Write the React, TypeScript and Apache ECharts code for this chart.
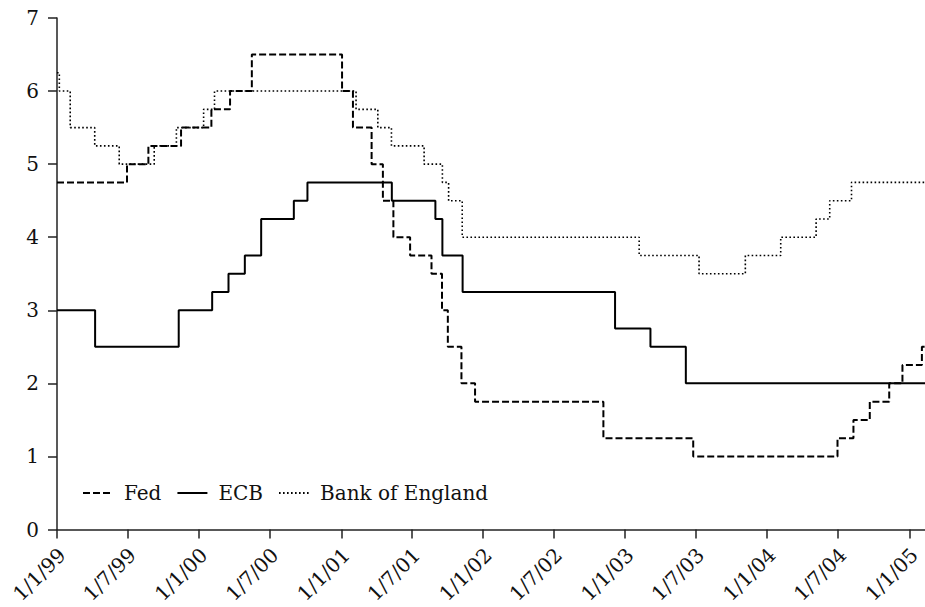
import React, { useEffect, useRef } from "react";
import * as echarts from "echarts";

const tickDates = [
  "1999-01-01", "1999-07-01", "2000-01-01", "2000-07-01", "2001-01-01", "2001-07-01",
  "2002-01-01", "2002-07-01", "2003-01-01", "2003-07-01", "2004-01-01", "2004-07-01", "2005-01-01",
];
const tickLabels = [
  "1/1/99", "1/7/99", "1/1/00", "1/7/00", "1/1/01", "1/7/01",
  "1/1/02", "1/7/02", "1/1/03", "1/7/03", "1/1/04", "1/7/04", "1/1/05",
];
const axisStart = "1999-01-01";
const axisEnd = "2005-02-10";

const fedDates = [
  "1999-01-01", "1999-06-30", "1999-08-24", "1999-11-16", "2000-02-02", "2000-03-21",
  "2000-05-16", "2001-01-03", "2001-01-31", "2001-03-20", "2001-04-18", "2001-05-15",
  "2001-06-27", "2001-08-21", "2001-09-17", "2001-10-02", "2001-11-06", "2001-12-11",
  "2002-11-06", "2003-06-25", "2004-06-30", "2004-08-10", "2004-09-21", "2004-11-10",
  "2004-12-14", "2005-02-02", "2005-02-10",
];
const fedRates = [
  4.75, 5.0, 5.25, 5.5, 5.75, 6.0,
  6.5, 6.0, 5.5, 5.0, 4.5, 4.0,
  3.75, 3.5, 3.0, 2.5, 2.0, 1.75,
  1.25, 1.0, 1.25, 1.5, 1.75, 2.0,
  2.25, 2.5, 2.5,
];

const ecbDates = [
  "1999-01-01", "1999-04-09", "1999-11-10", "2000-02-04", "2000-03-17", "2000-04-28",
  "2000-06-09", "2000-09-01", "2000-10-06", "2001-05-11", "2001-08-31", "2001-09-18",
  "2001-11-09", "2002-12-06", "2003-03-07", "2003-06-06", "2005-02-10",
];
const ecbRates = [
  3.0, 2.5, 3.0, 3.25, 3.5, 3.75,
  4.25, 4.5, 4.75, 4.5, 4.25, 3.75,
  3.25, 2.75, 2.5, 2.0, 2.0,
];

const boeDates = [
  "1999-01-01", "1999-01-07", "1999-02-04", "1999-04-08", "1999-06-10", "1999-09-08",
  "1999-11-04", "2000-01-13", "2000-02-10", "2001-02-08", "2001-04-05", "2001-05-10",
  "2001-08-02", "2001-09-18", "2001-10-04", "2001-11-08", "2003-02-06", "2003-07-10",
  "2003-11-06", "2004-02-05", "2004-05-06", "2004-06-10", "2004-08-05", "2005-02-10",
];
const boeRates = [
  6.25, 6.0, 5.5, 5.25, 5.0, 5.25,
  5.5, 5.75, 6.0, 5.75, 5.5, 5.25,
  5.0, 4.75, 4.5, 4.0, 3.75, 3.5,
  3.75, 4.0, 4.25, 4.5, 4.75, 4.75,
];

const ms = (d: string) => Date.parse(d + "T00:00:00Z");
const pairs = (ds: string[], vs: number[]) => ds.map((d, i) => [ms(d), vs[i]]);

const FONT = "DejaVu Serif";

export default function App() {
  const ref = useRef<HTMLDivElement>(null);
  useEffect(() => {
    if (!ref.current) return;
    const chart = echarts.init(ref.current, null, { renderer: "svg" });
    const tickMs = tickDates.map(ms);
    const labelOf = (v: number) => {
      const i = tickMs.indexOf(v);
      return i >= 0 ? tickLabels[i] : "";
    };
    chart.setOption({
      animation: false,
      backgroundColor: "#ffffff",
      grid: { left: 57, right: 0, top: 18, bottom: 77.5, containLabel: false, outerBoundsMode: "none" },
      legend: {
        left: 77,
        top: 478,
        itemWidth: 30,
        itemHeight: 14,
        itemGap: 15,
        itemStyle: { opacity: 0 },
        textStyle: { fontFamily: FONT, fontSize: 20, color: "#111", padding: [0, 0, 0, 6] },
        data: ["Fed", "ECB", "Bank of England"],
      },
      xAxis: {
        type: "value",
        min: ms(axisStart),
        max: ms(axisEnd),
        splitLine: { show: false },
        axisLine: { lineStyle: { color: "#222", width: 1.5 } },
        axisTick: { show: true, length: 9, customValues: tickMs, lineStyle: { color: "#222", width: 1.5 } },
        axisLabel: {
          customValues: tickMs,
          formatter: (v: number) => labelOf(v),
          rotate: 45,
          margin: 17,
          verticalAlign: "top",
          lineHeight: 14,
          fontFamily: FONT,
          fontSize: 20,
          color: "#111",
        },
      },
      yAxis: {
        type: "value",
        min: 0,
        max: 7,
        interval: 1,
        splitLine: { show: false },
        axisLine: { show: true, lineStyle: { color: "#222", width: 1.5 } },
        axisTick: { show: true, length: 9, lineStyle: { color: "#222", width: 1.5 } },
        axisLabel: { margin: 18, fontFamily: FONT, fontSize: 20, color: "#111" },
      },
      series: [
        {
          name: "Fed",
          type: "line",
          step: "end",
          symbol: "none",
          data: pairs(fedDates, fedRates),
          lineStyle: { color: "#000", width: 2, type: [7, 3] },
          itemStyle: { color: "#000" },
        },
        {
          name: "ECB",
          type: "line",
          step: "end",
          symbol: "none",
          data: pairs(ecbDates, ecbRates),
          lineStyle: { color: "#000", width: 2, type: "solid" },
          itemStyle: { color: "#000" },
        },
        {
          name: "Bank of England",
          type: "line",
          step: "end",
          symbol: "none",
          data: pairs(boeDates, boeRates),
          lineStyle: { color: "#000", width: 1.6, type: [1.6, 2.4] },
          itemStyle: { color: "#000" },
        },
      ],
    });
    return () => chart.dispose();
  }, []);
  return (
    <div
      ref={ref}
      style={{ position: "fixed", left: 0, top: 0, width: 925, height: 607 }}
    />
  );
}
